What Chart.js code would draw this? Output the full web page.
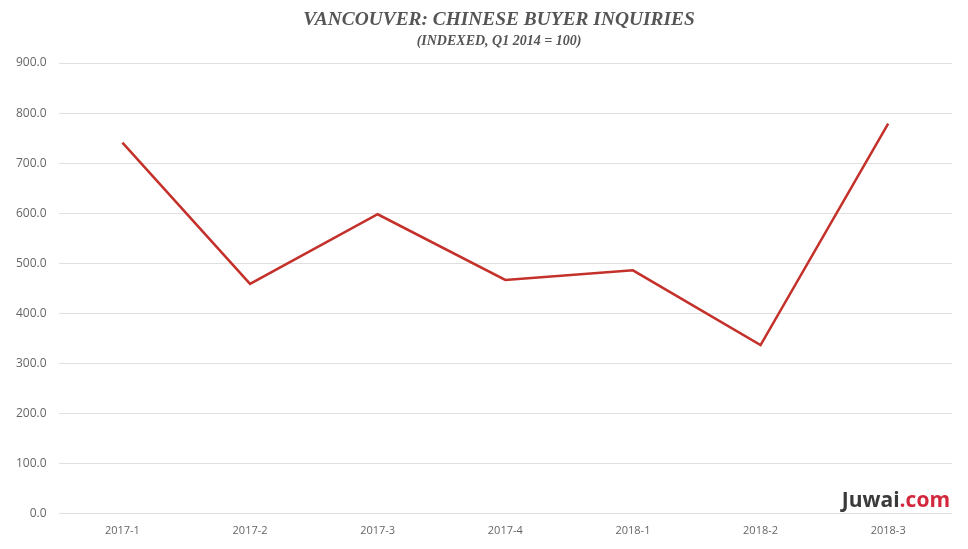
<!DOCTYPE html>
<html>
<head>
<meta charset="utf-8">
<script src="https://cdn.jsdelivr.net/npm/chart.js@4/dist/chart.umd.min.js"></script>
<style>
  html, body { margin: 0; padding: 0; background: #fff; }
  #wrap { width: 968px; height: 549px; position: relative; }
</style>
</head>
<body>
<div id="wrap"><canvas id="chart"></canvas></div>
<script>
'use strict';

// chart data
const quarters = ['2017-1', '2017-2', '2017-3', '2017-4', '2018-1', '2018-2', '2018-3'];
const inquiries = [741, 459, 598, 467, 486, 337, 779];
const yTicks = [0, 100, 200, 300, 400, 500, 600, 700, 800, 900];

const titleText = 'VANCOUVER: CHINESE BUYER INQUIRIES';
const subtitleText = '(INDEXED, Q1 2014 = 100)';

// title block, centred a little right of the canvas middle like the original
const headingPlugin = {
  id: 'heading',
  afterDraw(chart) {
    const ctx = chart.ctx;
    const cx = 499;
    ctx.save();
    ctx.fillStyle = '#555555';
    ctx.textAlign = 'center';
    ctx.textBaseline = 'alphabetic';
    ctx.font = 'italic bold 19.4px "Liberation Serif", serif';
    ctx.fillText(titleText, cx, 25);
    ctx.font = 'italic bold 14px "Liberation Serif", serif';
    ctx.fillText(subtitleText, cx, 45);
    ctx.restore();
  }
};

// draws the Juwai.com mark in the lower right corner
const logoPlugin = {
  id: 'logo',
  afterDraw(chart) {
    const ctx = chart.ctx;
    ctx.save();
    ctx.font = 'bold 21px "Open Sans", sans-serif';
    ctx.textBaseline = 'alphabetic';
    const a = 'Juwai';
    const b = '.com';
    const wa = ctx.measureText(a).width;
    const wb = ctx.measureText(b).width;
    const x = 950 - wa - wb;
    const y = 507;
    ctx.fillStyle = '#3a3a3a';
    ctx.fillText(a, x, y);
    ctx.fillStyle = '#d3273e';
    ctx.fillText(b, x + wa, y);
    ctx.restore();
  }
};

const ctx = document.getElementById('chart').getContext('2d');
const chart = new Chart(ctx, {
  type: 'line',
  data: {
    labels: quarters,
    datasets: [{
      data: inquiries,
      borderColor: '#c4302a',
      borderWidth: 2.5,
      pointRadius: 0,
      tension: 0,
      fill: false
    }]
  },
  options: {
    responsive: true,
    maintainAspectRatio: false,
    animation: false,
    layout: { padding: { top: 63, right: 16, left: 4, bottom: 2 } },
    plugins: {
      legend: { display: false },
      tooltip: { enabled: false },
      title: { display: false }
    },
    scales: {
      x: {
        offset: true,
        grid: { display: false, drawTicks: false },
        border: { display: false },
        ticks: {
          color: '#666666',
          font: { family: '"Open Sans", sans-serif', size: 11 },
          padding: 10,
          maxRotation: 0
        }
      },
      y: {
        min: 0,
        max: 900,
        afterBuildTicks(axis) {
          axis.ticks = yTicks.map(v => ({ value: v }));
        },
        grid: { color: '#e0e0e0', lineWidth: 1, drawTicks: false },
        border: { display: false },
        ticks: {
          color: '#666666',
          font: { family: '"Open Sans", sans-serif', size: 12 },
          padding: 12,
          callback: v => Number(v).toFixed(1)
        }
      }
    }
  },
  plugins: [headingPlugin, logoPlugin]
});
</script>
</body>
</html>
